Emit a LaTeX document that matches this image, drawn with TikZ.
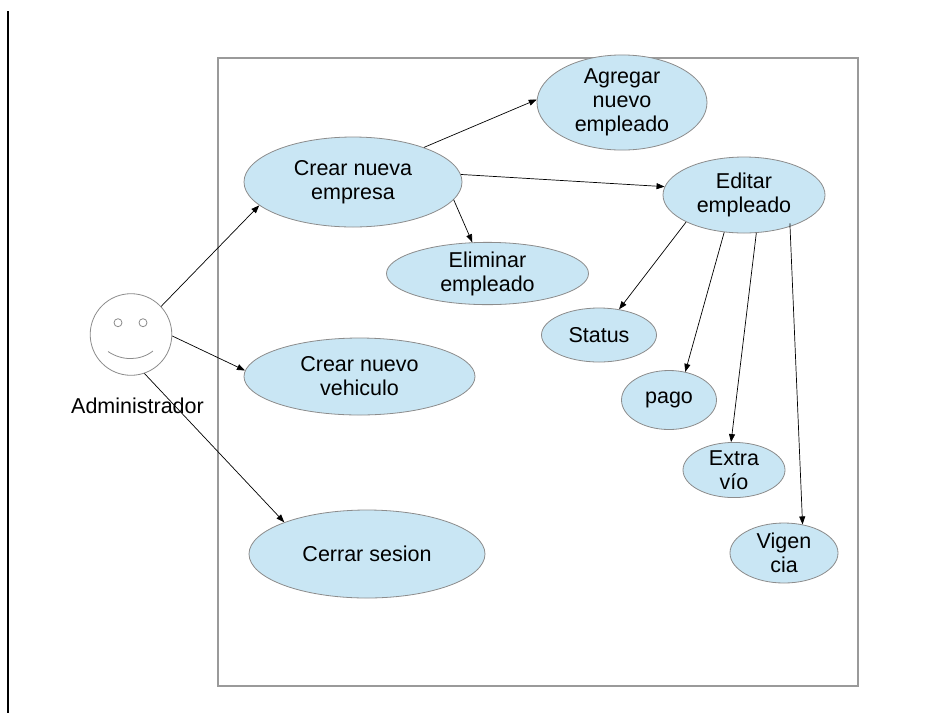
\documentclass[tikz,border=0pt]{standalone}
\usepackage{fontspec}
\setmainfont{Liberation Sans}
\usetikzlibrary{shapes.geometric,arrows.meta}
\definecolor{ucfill}{HTML}{C9E6F4}
\definecolor{ucline}{HTML}{8C8C8C}
\definecolor{boxline}{HTML}{9A9A9A}
\tikzset{
  uc/.style={ellipse, draw=ucline, line width=0.8pt, fill=ucfill, inner sep=0pt,
    align=center, font=\fontsize{21.5}{24}\selectfont},
  conn/.style={-{Triangle[length=8pt,width=6pt]}, line width=0.7pt, black},
}
\begin{document}
\begin{tikzpicture}[x=1pt,y=-1pt]
\useasboundingbox[fill=white] (0,0) rectangle (942,713);
% left rule
\draw[line width=1.3pt, black] (8,11) -- (8,713);
% system boundary
\draw[boxline, line width=1.2pt] (218,58) rectangle (858,686);
% actor
\node[circle, draw=ucline, line width=0.8pt, minimum size=81.6pt, inner sep=0pt] (actor) at (131,334.5) {};
\node[circle, draw=ucline, line width=0.8pt, minimum size=8pt, inner sep=0pt] (eyeL) at (118,322.7) {};
\node[circle, draw=ucline, line width=0.8pt, minimum size=8pt, inner sep=0pt] (eyeR) at (143,322.7) {};
\draw[ucline, line width=0.8pt] (108,351.5) .. controls (122,361) and (140,361) .. (153,351);
\node[anchor=base, font=\fontsize{21.5}{24}\selectfont, inner sep=0pt] (actorlbl) at (137.5,413.5) {Administrador};
% use cases
\node[uc, minimum width=218pt, minimum height=90pt] (crear) at (353,182) {Crear nueva\\empresa};
\node[uc, minimum width=170pt, minimum height=88pt] (agregar) at (622,102.5) {Agregar\\nuevo\\empleado};
\node[uc, minimum width=162pt, minimum height=76pt] (editar) at (744,195) {Editar\\empleado};
\node[uc, minimum width=202pt, minimum height=53pt] (eliminar) at (487.5,273.5) {Eliminar\\empleado};
\node[uc, minimum width=231pt, minimum height=77pt] (vehiculo) at (359.5,376.5) {Crear nuevo\\vehiculo};
\node[uc, minimum width=236pt, minimum height=88pt] (cerrar) at (367,554) {Cerrar sesion};
\node[uc, minimum width=115pt, minimum height=54pt] (status) at (599,335) {Status};
\node[uc, minimum width=95pt, minimum height=59pt] (pago) at (669,400) {pago};
\node[uc, minimum width=102pt, minimum height=54pt] (extra) at (734,470) {Extra\\vío};
\node[uc, minimum width=108pt, minimum height=60pt] (vigencia) at (784,553) {Vigen\\cia};
% connectors
\draw[conn] (actor.43.6) -- (crear.194);
\draw[conn] (actor.-2) -- (vehiculo.177.8);
\draw[conn] (actor.-71.4) -- (cerrar.159);
\draw[conn] (crear.26.7) -- (agregar.178);
\draw[conn] (crear.4.6) -- (editar.174);
\draw[conn] (crear.-10) -- (eliminar.116.6);
\draw[conn] (editar.205.7) -- (status.52.8);
\draw[conn] (editar.242) -- (pago.60.7);
\draw[conn] (editar.288.4) -- (extra.96.7);
\draw[conn] ([shift={(6pt,5pt)}]editar.-40) -- (vigencia.57);
\end{tikzpicture}
\end{document}
